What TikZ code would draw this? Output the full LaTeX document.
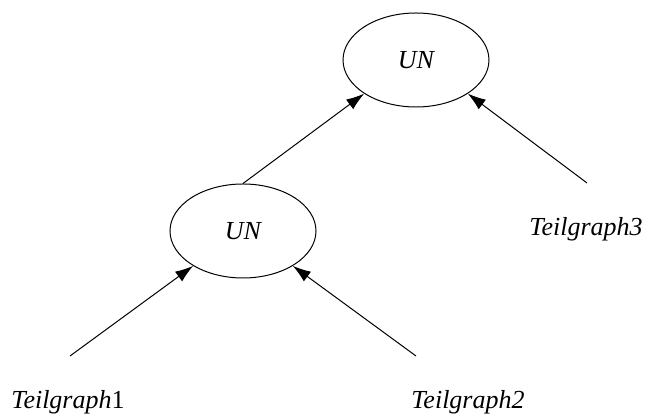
\documentclass[tikz,border=0pt]{standalone}
\usepackage{fontspec}
\setmainfont{Liberation Serif}
\usetikzlibrary{shapes.geometric,arrows.meta}

\begin{document}
\begin{tikzpicture}[x=0.5pt,y=-0.5pt,
    font=\fontsize{13}{15}\selectfont,
    un/.style={draw,ellipse,line width=0.5pt,minimum width=73pt,minimum height=47pt,inner sep=0pt,font=\fontsize{13}{15}\selectfont\itshape},
    teil/.style={anchor=base,inner sep=0pt},
    >={Latex[length=9pt,width=6pt]}]
                \useasboundingbox (0,0) rectangle (650,415);
                % union nodes
                \node[un] (unoben) at (416,60) {UN};
                \node[un] (ununten) at (243,231) {UN};
                % sub graphs
                \node[teil] (teil1) at (68,409) {\textit{Teilgraph}1};
                \node[teil] (teil2) at (468,409) {\textit{Teilgraph2}};
                \node[teil] (teil3) at (586,236) {\textit{Teilgraph3}};
                \coordinate (ende1) at (70,356);
                \coordinate (ende2) at (416,356);
                \coordinate (ende3) at (587,183);
                % arrows
                \draw[line width=0.5pt,->] (ununten.north) -- (unoben.213);
                \draw[line width=0.5pt,->] (ende3) -- (unoben.327);
                \draw[line width=0.5pt,->] (ende1) -- (ununten.215);
                \draw[line width=0.5pt,->] (ende2) -- (ununten.325);
\end{tikzpicture}
\end{document}
